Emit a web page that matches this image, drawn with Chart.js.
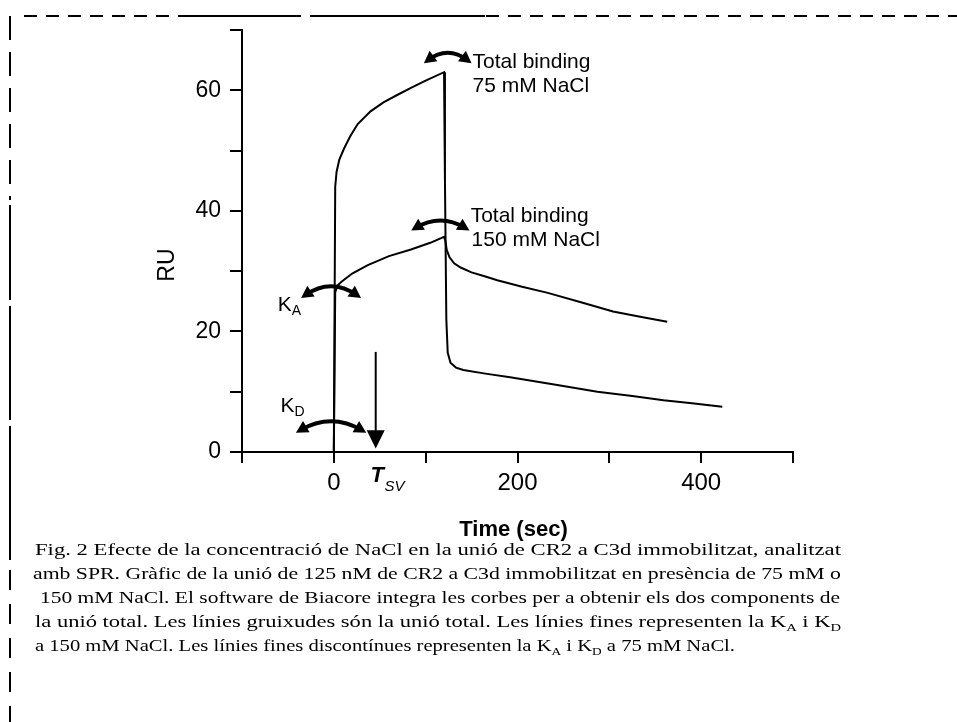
<!DOCTYPE html>
<html><head><meta charset="utf-8">
<script src="https://cdn.jsdelivr.net/npm/chart.js@4.4.0/dist/chart.umd.min.js"></script>
<style>
html,body{margin:0;padding:0;background:#fff;}
#wrap{position:relative;width:957px;height:722px;overflow:hidden;background:#fff;}
#c{position:absolute;left:0;top:0;}
.cap{position:absolute;white-space:nowrap;font-family:"Liberation Serif","Times New Roman",serif;font-size:17px;color:#000;transform-origin:0 50%;line-height:20px;}
.cap sub{font-size:11px;line-height:0;}
</style></head><body>
<div id="wrap"><canvas id="c" width="957" height="722"></canvas><div id="caption"></div></div>
<script>
// ---- data ----
const time75 = [-100, 0, 1.5, 3, 6, 11, 18, 26, 40, 54, 70, 84, 100, 120, 121, 122.5, 124, 127, 133, 141, 165, 192, 240, 287, 325, 359, 390, 423];
const ru75   = [0, 0, 44, 46.5, 48.5, 50.3, 52.4, 54.4, 56.5, 58, 59.3, 60.4, 61.6, 63, 45, 22, 16.5, 14.8, 14, 13.6, 13, 12.4, 11.2, 10, 9.3, 8.6, 8.1, 7.5];
const time150 = [-100, 0, 1.5, 4, 8, 20, 37, 60, 84, 105, 120, 121.5, 123, 126, 131, 138, 150, 165, 178, 205, 233, 270, 304, 335, 363];
const ru150   = [0, 0, 26.5, 27.6, 28.2, 29.6, 31, 32.5, 33.6, 34.7, 35.7, 35, 33.5, 32.3, 31.3, 30.6, 29.8, 29.1, 28.5, 27.4, 26.4, 24.8, 23.3, 22.4, 21.6];
const xTickLabels = [0, 200, 400];
const yTickLabels = [0, 20, 40, 60];
const xTitle = "Time (sec)";
const yTitle = "RU";
const captionLines = [
  "Fig. 2 Efecte de la concentració de NaCl en la unió de CR2 a C3d immobilitzat, analitzat",
  "amb SPR. Gràfic de la unió de 125 nM de CR2 a C3d immobilitzat en presència de 75 mM o",
  "150 mM NaCl. El software de Biacore integra les corbes per a obtenir els dos components de",
  "la unió total. Les línies gruixudes són la unió total. Les línies fines representen la K<sub>A</sub> i K<sub>D</sub>",
  "a 150 mM NaCl. Les línies fines discontínues representen la K<sub>A</sub> i K<sub>D</sub> a 75 mM NaCl."
];

function pts(xs, ys){ return xs.map((x,i)=>({x:x, y:ys[i]})); }

const SANS = '"Liberation Sans", Arial, sans-serif';

function curvedArrow(ctx, cx, cy, w, h){
  const x0 = cx - w/2, x1 = cx + w/2, y0 = cy + h/2;
  const cpy = cy - h;
  ctx.beginPath(); ctx.moveTo(x0, y0); ctx.quadraticCurveTo(cx, cpy, x1, y0);
  ctx.lineWidth = 4; ctx.stroke();
  function head(px, py, ang){
    const L = 12, W = 6.5;
    ctx.beginPath();
    ctx.moveTo(px + Math.cos(ang)*L*0.4, py + Math.sin(ang)*L*0.4);
    ctx.lineTo(px - Math.cos(ang)*L*0.6 - Math.sin(ang)*W, py - Math.sin(ang)*L*0.6 + Math.cos(ang)*W);
    ctx.lineTo(px - Math.cos(ang)*L*0.6 + Math.sin(ang)*W, py - Math.sin(ang)*L*0.6 - Math.cos(ang)*W);
    ctx.closePath(); ctx.fill();
  }
  const aL = Math.atan2(y0 - cpy, x0 - cx);
  const aR = Math.atan2(y0 - cpy, x1 - cx);
  head(x0, y0, aL); head(x1, y0, aR);
}

const decor = {
  id: 'decor',
  beforeDraw(chart){
    const ctx = chart.ctx; ctx.save();
    ctx.strokeStyle = '#000'; ctx.lineWidth = 2;
    ctx.setLineDash([13, 9]);
    ctx.beginPath(); ctx.moveTo(24, 16); ctx.lineTo(957, 16); ctx.stroke();
    ctx.setLineDash([]);
    ctx.beginPath(); ctx.moveTo(178, 16); ctx.lineTo(300, 16); ctx.moveTo(310, 16); ctx.lineTo(400, 16); ctx.moveTo(406, 16); ctx.lineTo(485, 16); ctx.stroke();
    ctx.setLineDash([24, 12]);
    ctx.beginPath(); ctx.moveTo(10, 16); ctx.lineTo(10, 200); ctx.stroke();
    ctx.setLineDash([]);
    ctx.beginPath(); ctx.moveTo(10, 205); ctx.lineTo(10, 300); ctx.moveTo(10, 306); ctx.lineTo(10, 420); ctx.moveTo(10, 426); ctx.lineTo(10, 560); ctx.stroke();
    ctx.setLineDash([20, 14]);
    ctx.beginPath(); ctx.moveTo(10, 570); ctx.lineTo(10, 722); ctx.stroke();
    ctx.restore();
  },
  afterDraw(chart){
    const ctx = chart.ctx, xs = chart.scales.x, ys = chart.scales.y;
    const X = v => xs.getPixelForValue(v), Y = v => ys.getPixelForValue(v);
    ctx.save();
    ctx.fillStyle = '#000'; ctx.strokeStyle = '#000';
    ctx.font = 'bold 22px ' + SANS; ctx.textAlign = 'center'; ctx.textBaseline = 'middle';
    ctx.fillText(xTitle, (xs.left + xs.right)/2 - 4, 530);
    ctx.save(); ctx.translate(168, Y(31)); ctx.rotate(-Math.PI/2);
    ctx.font = '23px ' + SANS; ctx.fillText(yTitle, 0, 0); ctx.restore();
    ctx.font = '21px ' + SANS; ctx.textAlign = 'left'; ctx.textBaseline = 'middle';
    ctx.fillText('Total binding', X(151), Y(64.7));
    ctx.fillText('75 mM NaCl', X(151), Y(60.7));
    ctx.fillText('Total binding', X(149), Y(39.1));
    ctx.fillText('150 mM NaCl', X(150), Y(35.2));
    function klabel(txt, sub, t, v){
      ctx.font = '21px ' + SANS; ctx.fillText(txt, X(t), Y(v));
      const w = ctx.measureText(txt).width;
      ctx.font = '14px ' + SANS; ctx.fillText(sub, X(t) + w, Y(v) + 6);
    }
    klabel('K', 'A', -61, 24.4);
    klabel('K', 'D', -58, 7.6);
    ctx.font = 'bold italic 22px ' + SANS; ctx.fillText('T', X(40), 476);
    ctx.font = 'italic 15px ' + SANS; ctx.fillText('SV', X(40) + 14, 487);
    ctx.lineWidth = 2; ctx.beginPath(); ctx.moveTo(X(45.6), Y(16.6)); ctx.lineTo(X(45.6), Y(2.5)); ctx.stroke();
    ctx.beginPath(); ctx.moveTo(X(45.6) - 9, Y(3.6)); ctx.lineTo(X(45.6) + 9, Y(3.6)); ctx.lineTo(X(45.6), Y(0.6)); ctx.closePath(); ctx.fill();
    curvedArrow(ctx, X(124), Y(65.8), 40, 10);
    curvedArrow(ctx, X(116), Y(38), 50, 10);
    curvedArrow(ctx, X(-3), Y(27), 52, 12);
    curvedArrow(ctx, X(-3), Y(4.6), 62, 12);
    ctx.restore();
  }
};

new Chart(document.getElementById('c'), {
  type: 'scatter',
  data: { datasets: [
    { label: 'Total binding 75 mM NaCl', data: pts(time75, ru75), showLine: true, borderColor: '#000', borderWidth: 2, pointRadius: 0, tension: 0 },
    { label: 'Total binding 150 mM NaCl', data: pts(time150, ru150), showLine: true, borderColor: '#000', borderWidth: 2, pointRadius: 0, tension: 0 }
  ]},
  options: {
    responsive: false, animation: false, devicePixelRatio: 1,
    layout: { padding: { left: 0, top: 30, right: 164, bottom: 210 } },
    plugins: { legend: { display: false }, tooltip: { enabled: false } },
    scales: {
      x: { type: 'linear', min: -100, max: 500,
        afterFit: s => { s.height = 60; },
        border: { display: true, color: '#000', width: 2 },
        grid: { drawOnChartArea: false, drawTicks: true, tickLength: 11, color: '#000', lineWidth: 2 },
        ticks: { stepSize: 100, color: '#000', padding: 6, maxRotation: 0, autoSkip: false,
          font: { family: SANS, size: 24 },
          callback: v => xTickLabels.includes(v) ? String(v) : '' } },
      y: { type: 'linear', min: 0, max: 70,
        afterFit: s => { s.width = 242; },
        border: { display: true, color: '#000', width: 2 },
        grid: { drawOnChartArea: false, drawTicks: true, tickLength: 12, color: '#000', lineWidth: 2 },
        ticks: { stepSize: 10, color: '#000', padding: 9, autoSkip: false,
          font: { family: SANS, size: 23 },
          callback: v => yTickLabels.includes(v) ? String(v) : '' } }
    }
  },
  plugins: [decor]
});

// caption layout: [left, centre y, width]
const capBox = [[35, 550, 806], [33, 574, 808], [40, 598, 800], [35, 622, 806], [35, 646, 700]];
const capEl = document.getElementById('caption');
captionLines.forEach((t, i) => {
  const d = document.createElement('div'); d.className = 'cap'; d.innerHTML = t;
  d.style.left = capBox[i][0] + 'px'; d.style.top = (capBox[i][1] - 10) + 'px';
  capEl.appendChild(d);
  const w = d.getBoundingClientRect().width;
  d.style.transform = 'scaleX(' + (capBox[i][2] / w) + ')';
});
</script>
</body></html>
